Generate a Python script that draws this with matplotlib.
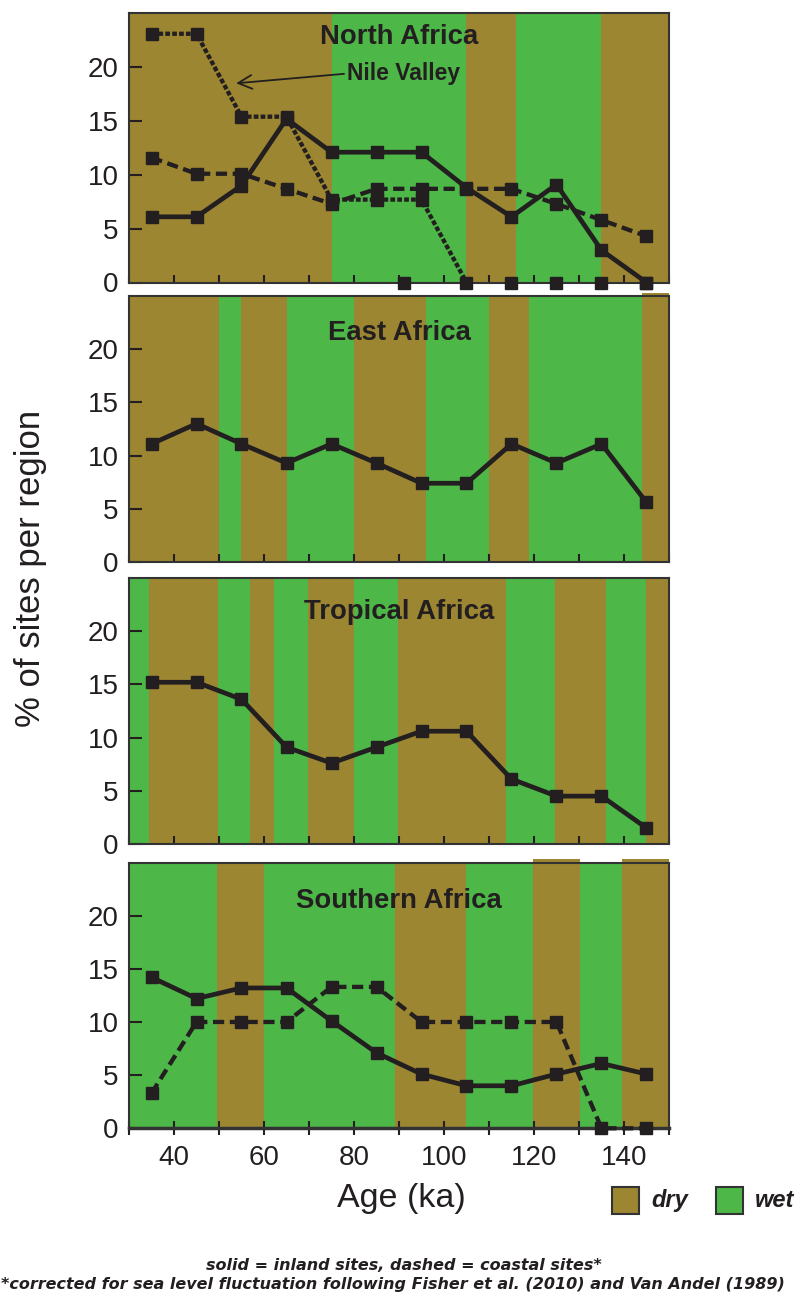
import matplotlib
matplotlib.use("Agg")
import matplotlib.pyplot as plt
from matplotlib.patches import Rectangle
from matplotlib.ticker import MultipleLocator

plt.rcParams["font.family"] = ["Liberation Sans", "DejaVu Sans"]

# ages of the site counts (ka)
ages = [35, 45, 55, 65, 75, 85, 95, 105, 115, 125, 135, 145]

# % of sites per region
na_inland = [6.1, 6.1, 9.0, 15.2, 12.1, 12.1, 12.1, 8.8, 6.1, 9.1, 3.0, 0.0]
na_coastal = [11.6, 10.1, 10.1, 8.7, 7.3, 8.7, 8.7, 8.7, 8.7, 7.3, 5.8, 4.3]
nile_valley = [23.1, 23.1, 15.4, 15.4, 7.7, 7.7, 7.7, 0.0, 0.0, 0.0, 0.0, 0.0]
na_zero_extra = [91]
ea_inland = [11.1, 13.0, 11.1, 9.3, 11.1, 9.3, 7.4, 7.4, 11.1, 9.3, 11.1, 5.6]
ta_inland = [15.2, 15.2, 13.6, 9.1, 7.6, 9.1, 10.6, 10.6, 6.1, 4.5, 4.5, 1.5]
sa_inland = [14.2, 12.2, 13.2, 13.2, 10.1, 7.1, 5.1, 4.0, 4.0, 5.1, 6.1, 5.1]
sa_coastal = [3.3, 10.0, 10.0, 10.0, 13.3, 13.3, 10.0, 10.0, 10.0, 10.0, 0.0, 0.0]

# dry / wet phases per region (start ka, end ka, phase)
na_phases = [(30, 75, "dry"), (75, 105, "wet"), (105, 116, "dry"),
             (116, 135, "wet"), (135, 150, "dry")]
ea_phases = [(30, 50, "dry"), (50, 55, "wet"), (55, 65, "dry"), (65, 80, "wet"),
             (80, 96, "dry"), (96, 110, "wet"), (110, 119, "dry"),
             (119, 144, "wet"), (144, 150, "dry")]
ta_phases = [(30, 34.4, "wet"), (34.4, 49.7, "dry"), (49.7, 57, "wet"),
             (57, 62.2, "dry"), (62.2, 69.7, "wet"), (69.7, 80, "dry"),
             (80, 89.7, "wet"), (89.7, 113.8, "dry"), (113.8, 124.6, "wet"),
             (124.6, 136.1, "dry"), (136.1, 145, "wet"), (145, 150, "dry")]
sa_phases = [(30, 49.6, "wet"), (49.6, 60, "dry"), (60, 89.2, "wet"),
             (89.2, 105, "dry"), (105, 119.7, "wet"), (119.7, 130.3, "dry"),
             (130.3, 139.6, "wet"), (139.6, 150, "dry")]
# bands drawn a touch above the frame
ea_raised = [(144, 150)]
sa_raised = [(119.7, 130.3), (139.6, 150)]

DRY = "#9D8632"
WET = "#4DB748"
INK = "#231F20"
phase_col = {"dry": DRY, "wet": WET}

W, H = 798, 1299
fig = plt.figure(figsize=(W / 100, H / 100), dpi=100)

# panel frames in pixels (top, bottom)
frames = [(13.3, 282.5), (296, 562), (578, 844), (862.5, 1128.3)]
left_px, right_px = 129, 669

solid = dict(ls="-", lw=3.4)
dashed = dict(ls=(0, (2.6, 1.3)), lw=3.1)
dotted = dict(ls=(0, (1.1, 0.5)), lw=3.1)
mk = dict(marker="s", ms=9, color=INK, clip_on=False, zorder=4)

panels = [
    ("North Africa", na_phases, [], 23.5),
    ("East Africa", ea_phases, ea_raised, 37),
    ("Tropical Africa", ta_phases, [], 34),
    ("Southern Africa", sa_phases, sa_raised, 39),
]

axes = []
for i, (name, phases, raised, title_off) in enumerate(panels):
    top, bot = frames[i]
    ax = fig.add_axes([left_px / W, 1 - bot / H, (right_px - left_px) / W, (bot - top) / H])
    axes.append(ax)
    ax.set_xlim(30, 150)
    ax.set_ylim(0, 25)
    # edge in the fill colour so neighbouring bands leave no seam
    for x0, x1, ph in phases:
        ax.axvspan(x0, x1, facecolor=phase_col[ph], edgecolor=phase_col[ph],
                   lw=0.8, zorder=0)
    for x0, x1 in raised:
        ax.add_patch(Rectangle((x0, 0), x1 - x0, 25.3, facecolor=DRY, lw=0,
                               clip_on=False, zorder=0))
    ax.text(0.5, 1 - title_off / (bot - top), name, transform=ax.transAxes,
            ha="center", va="center", fontsize=19.8, fontweight="bold", color=INK)
    ax.set_yticks([0, 5, 10, 15, 20])
    ax.xaxis.set_major_locator(MultipleLocator(20))
    ax.xaxis.set_minor_locator(MultipleLocator(10))
    ax.tick_params(axis="y", direction="in", length=9, width=1.5, pad=7.5,
                   labelsize=20, color=INK, labelcolor=INK)
    ax.tick_params(axis="x", which="both", direction="in", length=6, width=1.5,
                   color=INK, labelbottom=False)
    for s in ax.spines.values():
        s.set_color("#333333")
        s.set_linewidth(1.5)
        s.set_zorder(2.5)

ax1, ax2, ax3, ax4 = axes

# North Africa
ax1.plot(ages, na_inland, **solid, **mk)
ax1.plot(ages, na_coastal, **dashed, **mk)
k = nile_valley.index(0.0) + 1
ax1.plot(ages[:k], nile_valley[:k], **dotted, **mk)
ax1.plot(ages[k:], nile_valley[k:], ls="none", **mk)
ax1.plot(na_zero_extra, [0] * len(na_zero_extra), ls="none", **mk)
ax1.annotate("Nile Valley", xy=(53.8, 18.5), xytext=(78.4, 19.4),
             ha="left", va="center", fontsize=16.5, fontweight="bold", color=INK,
             arrowprops=dict(arrowstyle="->,head_length=0.6,head_width=0.3", lw=1.3,
                             color=INK, relpos=(0, 0.5), shrinkA=0, shrinkB=0))

# East Africa
ax2.plot(ages, ea_inland, **solid, **mk)

# Tropical Africa
ax3.plot(ages, ta_inland, **solid, **mk)

# Southern Africa
ax4.plot(ages, sa_inland, **solid, **mk)
ax4.plot(ages, sa_coastal, **dashed, **mk)

ax4.tick_params(axis="x", which="both", direction="inout", length=10.5,
                labelbottom=True, labelsize=20, labelcolor=INK, pad=6.5)
ax4.spines["bottom"].set_linewidth(2.5)

fig.text(31 / W, 1 - 568 / H, "% of sites per region", rotation=90,
         ha="center", va="center", fontsize=25, color=INK)
fig.text(401.6 / W, 1 - 1198 / H, "Age (ka)", ha="center", va="center",
         fontsize=24.5, color=INK)

# legend boxes
for x0, ph in [(612, "dry"), (716, "wet")]:
    fig.add_artist(Rectangle((x0 / W, 1 - 1214 / H), 27 / W, 27 / H,
                             transform=fig.transFigure, facecolor=phase_col[ph],
                             edgecolor="#333333", lw=1.5))
    fig.text((x0 + 39) / W, 1 - 1200.5 / H, ph, ha="left", va="center",
             fontsize=17, fontweight="bold", fontstyle="italic", color=INK)

note_font = dict(family="DejaVu Sans", fontweight="bold", fontstyle="italic",
                 fontsize=11.5, color=INK)
fig.text(403.5 / W, 1 - 1265 / H, "solid = inland sites, dashed = coastal sites*",
         ha="center", va="center", **note_font)
fig.text(1 / W, 1 - 1285 / H,
         "*corrected for sea level fluctuation following Fisher et al. (2010) and Van Andel (1989)",
         ha="left", va="center", **note_font)

fig.savefig("out.png", dpi=100)
